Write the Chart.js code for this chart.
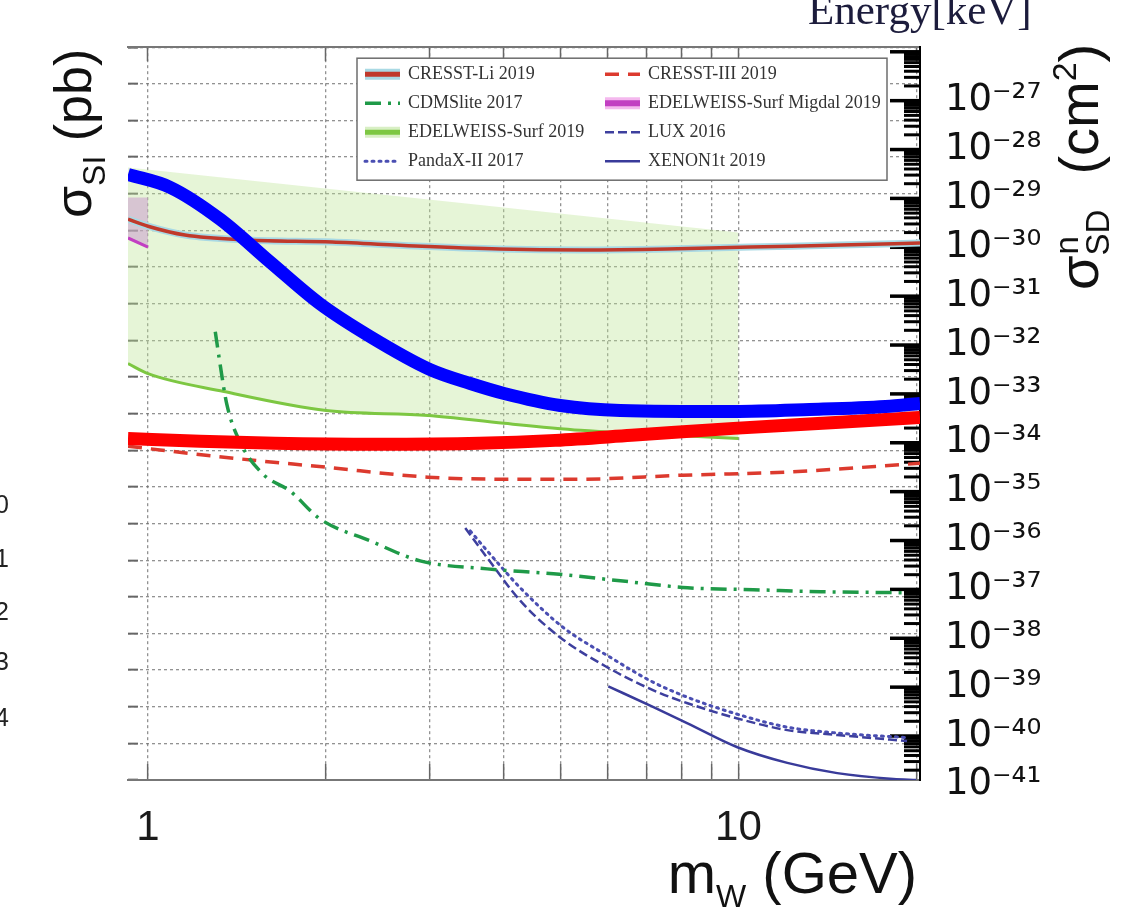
<!DOCTYPE html>
<html lang="en">
<head>
<meta charset="utf-8">
<title>WIMP cross-section limits</title>
<script src="https://cdn.jsdelivr.net/npm/chart.js@4.4.1/dist/chart.umd.min.js"></script>
<style>
    html, body { margin: 0; padding: 0; background: #ffffff; }
    #limitsChart { display: block; }
</style>
</head>
<body>
<canvas id="limitsChart" width="1127" height="908"></canvas>
<script>
// Axis ticks
const massTicks = [1, 2, 3, 4, 5, 6, 7, 8, 9, 10, 20];   // GeV, log grid
const massLabels = [1, 10];
const sigmaExponents = [-41, -40, -39, -38, -37, -36, -35, -34, -33, -32, -31, -30, -29, -28, -27];

// Limit curves: WIMP mass (GeV) vs cross section (cm^2)
const thickBlueMass  = [0.925, 1.09, 1.325, 1.61, 1.956, 2.38, 3.006, 3.514, 4.01, 4.99, 6.31, 9.81, 13.2, 17.75, 20.3];
const thickBlueSigma = [3.1e-29, 1.69e-29, 3.75e-30, 5.0e-31, 6.95e-32, 1.48e-32, 3.14e-33, 1.63e-33, 1.02e-33, 5.8e-34, 4.6e-34, 4.38e-34, 4.8e-34, 5.55e-34, 6.4e-34];

const thickRedMass  = [0.925, 1.225, 1.64, 2.445, 3.64, 4.895, 6.59, 9.81, 14.6, 20.3];
const thickRedSigma = [1.23e-34, 1.07e-34, 9.75e-35, 9.3e-35, 9.75e-35, 1.12e-34, 1.42e-34, 1.97e-34, 2.61e-34, 3.3e-34];

const cresstLiMass  = [0.925, 1.0, 1.155, 1.477, 2.05, 2.835, 3.94, 5.46, 7.58, 10.48, 14.9, 20.3];
const cresstLiSigma = [3.75e-30, 2.7e-30, 1.78e-30, 1.41e-30, 1.28e-30, 1.06e-30, 9.2e-31, 8.8e-31, 9.2e-31, 1.01e-30, 1.11e-30, 1.22e-30];

const cresst3Mass  = [0.925, 1.345, 2.003, 2.98, 4.01, 5.40, 8.04, 11.97, 20.3];
const cresst3Sigma = [8.5e-35, 5.06e-35, 3.16e-35, 1.98e-35, 1.8e-35, 1.8e-35, 2.17e-35, 2.5e-35, 3.8e-35];

const edwSurfMass  = [0.925, 1.0, 1.345, 2.003, 2.98, 4.01, 5.40, 6.59, 10.0];
const edwSurfSigma = [4.17e-33, 2.6e-33, 1.12e-33, 4.58e-34, 3.63e-34, 2.5e-34, 1.8e-34, 1.56e-34, 1.23e-34];

const edwRegionMass = [0.925, 10.0];
const edwRegionTop  = [4.3e-29, 2.0e-30];

const migdalMass = [0.925, 1.0];
const migdalHigh = [1.05e-29, 1.05e-29];
const migdalLow  = [1.55e-30, 1.01e-30];

const cdmsMass  = [1.30, 1.325, 1.36, 1.43, 1.566, 1.74, 1.956, 2.38, 2.89, 3.754, 4.86, 6.31, 8.20, 10.6, 13.8, 19.2];
const cdmsSigma = [1.87e-32, 3.97e-33, 6.08e-34, 1.07e-34, 2.28e-35, 1.03e-35, 2.76e-36, 9.8e-37, 3.84e-37, 2.63e-37, 2.09e-37, 1.5e-37, 1.08e-37, 9.86e-38, 8.97e-38, 8.55e-38];

const luxMass  = [3.446, 3.754, 4.27, 4.99, 6.00, 7.18, 8.20, 9.96, 12.1, 14.7, 19.3];
const luxSigma = [1.81e-36, 4.43e-37, 5.87e-38, 1.04e-38, 2.54e-39, 8.6e-40, 4.68e-40, 2.29e-40, 1.32e-40, 1.05e-40, 7.9e-41];

const pandaxMass  = [3.514, 3.843, 4.27, 5.05, 6.07, 7.18, 8.20, 9.96, 12.1, 14.7, 19.3];
const pandaxSigma = [1.57e-36, 4.43e-37, 1.08e-37, 1.66e-38, 4.06e-39, 1.25e-39, 6.2e-40, 2.79e-40, 1.52e-40, 1.15e-40, 9.3e-41];

const xenonMass  = [6.02, 7.18, 8.20, 9.96, 12.1, 14.7, 18.3, 20.0];
const xenonSigma = [1.04e-39, 3.89e-40, 1.82e-40, 5.9e-41, 2.82e-41, 1.74e-41, 1.32e-41, 1.26e-41];

// Legend layout: two columns of four
const legendColumns = [
    ['CRESST-Li 2019', 'CDMSlite 2017', 'EDELWEISS-Surf 2019', 'PandaX-II 2017'],
    ['CRESST-III 2019', 'EDELWEISS-Surf Migdal 2019', 'LUX 2016', 'XENON1t 2019']
];

const SANS = '"Liberation Sans", Arial, sans-serif';
const SERIF = '"Liberation Serif", "Times New Roman", serif';
const TICK_FONT = '"DejaVu Sans", sans-serif';   // has every superscript digit
const SUPERSCRIPT = { '-': '\u207B', '0': '\u2070', '1': '\u00B9', '2': '\u00B2', '3': '\u00B3',
    '4': '\u2074', '5': '\u2075', '6': '\u2076', '7': '\u2077', '8': '\u2078', '9': '\u2079' };

function toPoints(xs, ys) {
    return xs.map((x, i) => ({ x: x, y: ys[i] }));
}

function powerLabel(value) {
    const exp = Math.round(Math.log10(value));
    return '10' + String(exp).split('').map(c => SUPERSCRIPT[c]).join('');
}

const datasets = [
    {   // shaded region, filled down to the EDELWEISS-Surf line
        label: 'EDELWEISS-Surf region',
        data: toPoints(edwRegionMass, edwRegionTop),
        borderWidth: 0,
        backgroundColor: 'rgba(190, 230, 150, 0.38)',
        fill: '+1',
        order: 10
    },
    {
        label: 'EDELWEISS-Surf 2019',
        data: toPoints(edwSurfMass, edwSurfSigma),
        borderColor: '#7dc742',
        borderWidth: 3,
        legendHalo: '#d8efc4',
        legendWidth: 5,
        order: 5
    },
    {   // Migdal band
        label: 'Migdal band',
        data: toPoints(migdalMass, migdalHigh),
        borderWidth: 0,
        backgroundColor: 'rgba(200, 150, 205, 0.5)',
        fill: '+1',
        order: 9
    },
    {
        label: 'EDELWEISS-Surf Migdal 2019',
        data: toPoints(migdalMass, migdalLow),
        borderColor: '#c23fc2',
        borderWidth: 3,
        legendHalo: '#f4b8ee',
        legendWidth: 6,
        order: 8
    },
    {
        label: 'CRESST-Li halo',
        data: toPoints(cresstLiMass, cresstLiSigma),
        borderColor: '#a9d9e4',
        borderWidth: 7,
        order: 7
    },
    {
        label: 'CRESST-Li 2019',
        data: toPoints(cresstLiMass, cresstLiSigma),
        borderColor: '#c0392b',
        borderWidth: 3.5,
        legendHalo: '#a9d9e4',
        legendWidth: 5,
        order: 6
    },
    {
        label: 'CRESST-III 2019',
        data: toPoints(cresst3Mass, cresst3Sigma),
        borderColor: '#dc3a2e',
        borderWidth: 3.5,
        borderDash: [14, 9],
        order: 4
    },
    {
        label: 'CDMSlite 2017',
        data: toPoints(cdmsMass, cdmsSigma),
        borderColor: '#1f9a48',
        borderWidth: 3.5,
        borderDash: [16, 7, 3, 7],
        order: 3
    },
    {
        label: 'LUX 2016',
        data: toPoints(luxMass, luxSigma),
        borderColor: '#3d3f9e',
        borderWidth: 2.5,
        borderDash: [9, 4],
        order: 3
    },
    {
        label: 'PandaX-II 2017',
        data: toPoints(pandaxMass, pandaxSigma),
        borderColor: '#4a4eb2',
        borderWidth: 3,
        borderDash: [2, 5],
        borderCapStyle: 'round',
        order: 3
    },
    {
        label: 'XENON1t 2019',
        data: toPoints(xenonMass, xenonSigma),
        borderColor: '#393b9a',
        borderWidth: 2.5,
        order: 3
    },
    {
        label: 'thick red',
        data: toPoints(thickRedMass, thickRedSigma),
        borderColor: '#ff0000',
        borderWidth: 13,
        order: 2
    },
    {
        label: 'thick blue',
        data: toPoints(thickBlueMass, thickBlueSigma),
        borderColor: '#0000ff',
        borderWidth: 13,
        order: 1
    }
];

datasets.forEach(ds => {
    ds.xAxisID = 'x';
    ds.yAxisID = 'y';
    ds.pointRadius = 0;
    ds.clip = 0;
    if (!ds.fill) ds.fill = false;
});

// draw a sequence of [text, size, baselineShift] runs; returns end x
function drawRuns(ctx, runs, x, y) {
    let cx = x;
    runs.forEach(([text, size, shift]) => {
        ctx.font = size + 'px ' + SANS;
        ctx.fillText(text, cx, y + shift);
        cx += ctx.measureText(text).width;
    });
    return cx;
}

function runsWidth(ctx, runs) {
    let w = 0;
    runs.forEach(([text, size]) => {
        ctx.font = size + 'px ' + SANS;
        w += ctx.measureText(text).width;
    });
    return w;
}

function drawSample(ctx, ds, x, y, len) {
    ctx.save();
    ctx.lineCap = 'butt';
    if (ds.legendHalo) {
        ctx.strokeStyle = ds.legendHalo;
        ctx.lineWidth = ds.legendWidth + 6;
        ctx.beginPath();
        ctx.moveTo(x, y);
        ctx.lineTo(x + len, y);
        ctx.stroke();
    }
    ctx.strokeStyle = ds.borderColor;
    ctx.lineWidth = ds.legendWidth || ds.borderWidth;
    ctx.setLineDash(ds.borderDash || []);
    if (ds.borderCapStyle) ctx.lineCap = ds.borderCapStyle;
    ctx.beginPath();
    ctx.moveTo(x, y);
    ctx.lineTo(x + len, y);
    ctx.stroke();
    ctx.restore();
}

// dense black tick column along the right axis
const sideTicks = {
    id: 'sideTicks',
    beforeDatasetsDraw(chart) {
        const { ctx, chartArea: area, scales: { y } } = chart;
        ctx.save();
        ctx.strokeStyle = '#000';
        for (let e = -42; e <= -25; e++) {
            for (let k = 1; k <= 9; k++) {
                const v = k * Math.pow(10, e);
                if (v < y.min || v > y.max) continue;
                const py = y.getPixelForValue(v);
                ctx.lineWidth = k === 1 ? 3.5 : 3;
                ctx.beginPath();
                ctx.moveTo(area.right - (k === 1 ? 30 : 16), py);
                ctx.lineTo(area.right, py);
                ctx.stroke();
            }
        }
        ctx.restore();
    }
};

const legendPanel = {
    id: 'legendPanel',
    afterDatasetsDraw(chart) {
        const { ctx, chartArea: area } = chart;
        const left = area.left + 229, top = area.top + 11;
        const width = 530, height = 122, rowGap = 29, colGap = 240;
        ctx.save();
        ctx.fillStyle = '#ffffff';
        ctx.fillRect(left, top, width, height);
        ctx.strokeStyle = '#6d6d6d';
        ctx.lineWidth = 1.5;
        ctx.strokeRect(left, top, width, height);
        ctx.font = '18px ' + SERIF;
        ctx.textBaseline = 'middle';
        legendColumns.forEach((col, c) => {
            col.forEach((label, r) => {
                const ds = chart.data.datasets.find(d => d.label === label);
                const x = left + 8 + c * colGap;
                const y = top + 16 + r * rowGap;
                drawSample(ctx, ds, x, y, 35);
                ctx.fillStyle = '#333';
                ctx.fillText(label, x + 43, y);
            });
        });
        ctx.restore();
    }
};

const titles = {
    id: 'titles',
    afterDraw(chart) {
        const { ctx, chartArea: area } = chart;
        ctx.save();
        ctx.fillStyle = '#111';
        ctx.textBaseline = 'alphabetic';
        ctx.textAlign = 'left';

        // x title, right aligned with the plot
        const xRuns = [['m', 58, 0], ['W', 32, 14], [' (GeV)', 58, 0]];
        drawRuns(ctx, xRuns, area.right - 3 - runsWidth(ctx, xRuns), 893);

        // left title
        ctx.save();
        ctx.translate(91, 218);
        ctx.rotate(-Math.PI / 2);
        drawRuns(ctx, [['\u03C3', 52, 0], ['SI', 32, 14], [' (pb)', 52, 0]], 0, 0);
        ctx.restore();

        // right title
        ctx.save();
        ctx.translate(1098, 290);
        ctx.rotate(-Math.PI / 2);
        let cx = drawRuns(ctx, [['\u03C3', 56, 0]], 0, 0);
        ctx.font = '33px ' + SANS;
        ctx.fillText('n', cx + 1, -20);
        cx = drawRuns(ctx, [['SD', 33, 11]], cx, 0);
        drawRuns(ctx, [['(cm', 56, 0], ['2', 34, -22], [')', 56, 0]], cx + 35, 0);
        ctx.restore();

        // energy caption at the top
        ctx.fillStyle = '#1c1c3c';
        ctx.font = '43px ' + SERIF;
        ctx.fillText('Energy[keV]', 808, 24);

        // cut-off digits at the left edge
        ctx.fillStyle = '#222';
        ctx.font = '25px ' + SANS;
        ctx.textAlign = 'right';
        ctx.textBaseline = 'middle';
        [['0', 506], ['1', 560], ['2', 613], ['3', 663], ['4', 719]].forEach(([t, y]) => {
            ctx.fillText(t, 9, y);
        });
        ctx.restore();
    }
};

const gridColor = 'rgba(110, 110, 110, 0.75)';

function setMassTicks(scale) {
    scale.ticks = massTicks.map(v => ({ value: v }));
}

new Chart(document.getElementById('limitsChart'), {
    type: 'line',
    data: { datasets },
    options: {
        responsive: false,
        devicePixelRatio: 1,
        animation: false,
        layout: { padding: { top: 44, left: 0, right: 0, bottom: 0 } },
        elements: {
            line: { cubicInterpolationMode: 'monotone' },
            point: { radius: 0 }
        },
        plugins: {
            legend: { display: false },
            tooltip: { enabled: false }
        },
        scales: {
            x: {
                type: 'logarithmic',
                position: 'bottom',
                min: 0.925,
                max: 20.3,
                afterBuildTicks: setMassTicks,
                afterFit: s => { s.height = 128; },
                ticks: {
                    autoSkip: false,
                    maxRotation: 0,
                    padding: 39,
                    color: '#1a1a1a',
                    font: { family: SANS, size: 42 },
                    callback: v => massLabels.includes(v) ? String(v) : ''
                },
                grid: { color: gridColor, lineWidth: 1.3, tickLength: -16, tickColor: '#666', tickWidth: 1.5 },
                border: { color: '#777', width: 2, dash: [3, 3] }
            },
            xTop: {
                type: 'logarithmic',
                position: 'top',
                min: 0.925,
                max: 20.3,
                afterBuildTicks: setMassTicks,
                afterFit: s => { s.height = 0; },
                ticks: { display: false },
                grid: { drawOnChartArea: false, tickLength: -14, tickColor: '#666', tickWidth: 1.5 },
                border: { color: '#777', width: 2 }
            },
            y: {
                type: 'logarithmic',
                position: 'right',
                min: Math.pow(10, -40.9),
                max: Math.pow(10, -25.906),
                afterBuildTicks: s => { s.ticks = sigmaExponents.map(e => ({ value: Math.pow(10, e) })); },
                afterFit: s => { s.width = 207; },
                ticks: {
                    autoSkip: false,
                    padding: 25,
                    color: '#111',
                    font: { family: TICK_FONT, size: 37 },
                    callback: v => powerLabel(v)
                },
                grid: { drawOnChartArea: false, drawTicks: false },
                border: { color: '#000', width: 2 }
            },
            yGrid: {
                type: 'linear',
                position: 'left',
                min: 0,
                max: 20,
                afterFit: s => { s.width = 128; },
                ticks: { display: false, stepSize: 1 },
                grid: { color: gridColor, lineWidth: 1.3, tickLength: -10, tickColor: '#666', tickWidth: 2 },
                border: { display: false, dash: [3, 3] }
            }
        }
    },
    plugins: [sideTicks, legendPanel, titles]
});
</script>
</body>
</html>
